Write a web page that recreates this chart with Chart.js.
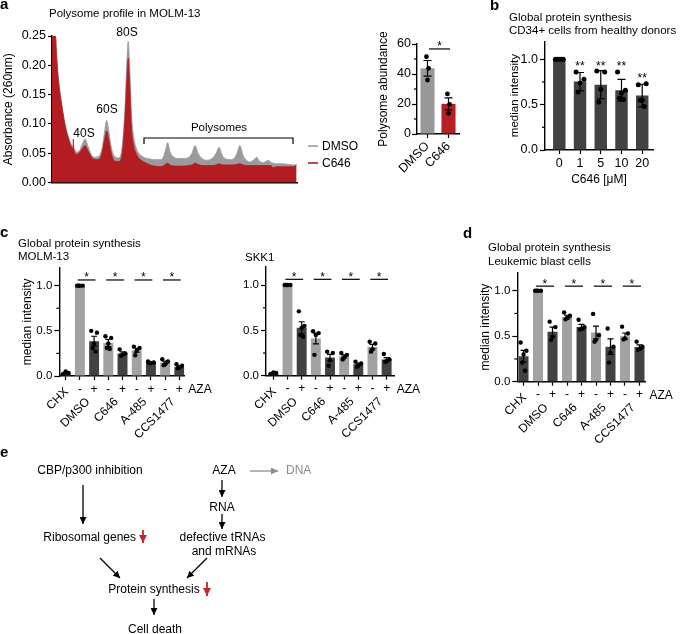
<!DOCTYPE html>
<html><head><meta charset="utf-8">
<script src="https://cdn.jsdelivr.net/npm/chart.js@4.4.1/dist/chart.umd.min.js"></script>
<style>
html,body{margin:0;padding:0;background:#fff;}
#root{position:relative;width:685px;height:634px;overflow:hidden;background:#fff;font-family:'Liberation Sans',Arial,Helvetica,sans-serif;color:#000;}
#root canvas{position:absolute;}
.t{position:absolute;white-space:nowrap;line-height:1;z-index:5;}
#ov{position:absolute;left:0;top:0;z-index:4;}
</style></head><body><div id="root"></div>
<script>
// ================= DATA =================
// Panel a: polysome profile (gradient position 0-100, absorbance 260nm)
const profileFraction = [0,1.4,1.9,2.6,4.0,5.3,6.7,8.0,8.6,8.7,8.9,10.1,11.4,12.4,13.5,14.7,15.9,17.1,18.8,20.4,21.4,22.3,23.3,24.3,25.7,27.3,28.6,29.8,30.6,31.1,31.7,32.4,33.2,34.3,35.2,36.7,38.0,40.0,42.0,44.1,45.3,46.3,47.2,48.2,49.8,51.4,53.5,55.5,57.1,58.4,59.6,61.2,63.3,65.3,66.9,68.2,69.4,71.0,72.7,74.3,75.5,76.7,78.0,79.6,80.8,82.4,83.6,84.5,86.1,87.3,88.3,89.4,90.2,91.7,93.9,96.3,98.4,99.8];
const profileDMSO = [.25,.25,.215,.178,.133,.100,.078,.064,.061,.060,.059,.052,.056,.066,.074,.062,.049,.043,.044,.058,.085,.106,.085,.058,.044,.042,.060,.130,.210,.241,.200,.120,.082,.060,.051,.045,.042,.040,.039,.039,.042,.055,.068,.052,.043,.041,.041,.042,.050,.063,.050,.041,.038,.041,.049,.060,.047,.040,.039,.041,.050,.063,.046,.037,.035,.039,.043,.037,.034,.036,.038,.034,.033,.032,.032,.031,.030,.030];
const profileC646 = [.25,.25,.213,.175,.131,.098,.075,.060,.058,.074,.056,.048,.052,.058,.063,.054,.045,.040,.039,.050,.072,.088,.070,.048,.036,.036,.048,.110,.180,.212,.170,.095,.066,.050,.043,.037,.034,.030,.028,.027,.028,.031,.033,.030,.028,.028,.028,.029,.030,.033,.031,.029,.029,.029,.030,.032,.030,.030,.030,.030,.031,.032,.030,.029,.029,.029,.029,.029,.029,.029,.029,.029,.025,.027,.027,.027,.027,.030];
const profileTicks = [0, 0.05, 0.10, 0.15, 0.20, 0.25];

// Panel a: polysome abundance
const polyLabels = ['DMSO', 'C646'];
const polyMeans = [43.8, 20.1];
const polySEM = [5.2, 4.0];
const polyPoints = [[51.5, 43.8, 36.0], [26.7, 19.8, 13.8]];
const polyTicks = [0, 20, 40, 60];

// Panel b: CD34+ cells, C646 dose
const cd34Labels = ['0', '1', '5', '10', '20'];
const cd34Means = [1.0, 0.755, 0.72, 0.66, 0.60];
const cd34SD = [0, 0.10, 0.155, 0.12, 0.125];
const cd34Points = [[1, 1, 1, 1, 1], [0.86, 0.78, 0.74, 0.64], [0.87, 0.86, 0.67, 0.53], [0.86, 0.66, 0.63, 0.57, 0.56], [0.72, 0.73, 0.55, 0.55, 0.48]];
const intensityTicks = [0, 0.5, 1.0];

// Panels c/d shared categories
const drugGroups = ['DMSO', 'C646', 'A-485', 'CCS1477'];
const azaLabels = ['', '-', '+', '-', '+', '-', '+', '-', '+'];

// Panel c: MOLM-13
const molmMeans = [0.03, 1.0, 0.385, 0.365, 0.25, 0.285, 0.15, 0.15, 0.10];
const molmSEM = [0.01, 0, 0.055, 0.04, 0.016, 0.022, 0.006, 0.015, 0.01];
const molmPoints = [[0.02, 0.035, 0.05], [1, 1, 1, 1], [0.50, 0.48, 0.36, 0.31, 0.27], [0.44, 0.42, 0.36, 0.31, 0.30], [0.295, 0.25, 0.235, 0.225], [0.325, 0.31, 0.28, 0.23], [0.16, 0.15, 0.145, 0.14], [0.185, 0.16, 0.13, 0.12], [0.13, 0.115, 0.095, 0.085]];

// Panel c: SKK1
const skkMeans = [0.03, 1.0, 0.53, 0.41, 0.20, 0.215, 0.125, 0.32, 0.18];
const skkSEM = [0.005, 0, 0.065, 0.06, 0.035, 0.015, 0.013, 0.025, 0.02];
const skkPoints = [[0.02, 0.03, 0.035], [1, 1, 1, 1], [0.71, 0.55, 0.53, 0.45, 0.43], [0.49, 0.47, 0.45, 0.23], [0.265, 0.25, 0.17, 0.11], [0.25, 0.23, 0.2, 0.18], [0.155, 0.135, 0.11, 0.10], [0.375, 0.355, 0.29, 0.265], [0.24, 0.18, 0.16, 0.155]];

// Panel d: leukemic blast cells
const blastMeans = [0.28, 1.0, 0.55, 0.71, 0.60, 0.54, 0.385, 0.50, 0.38];
const blastSEM = [0.065, 0, 0.05, 0.02, 0.03, 0.07, 0.085, 0.035, 0.025];
const blastPoints = [[0.43, 0.34, 0.30, 0.21, 0.12], [1, 1, 1, 1], [0.66, 0.60, 0.49, 0.46], [0.76, 0.725, 0.70, 0.685], [0.68, 0.60, 0.585, 0.575], [0.745, 0.51, 0.46, 0.44], [0.585, 0.385, 0.32, 0.21], [0.605, 0.53, 0.475, 0.465], [0.44, 0.385, 0.36, 0.35]];

// ================= STYLE =================
const FF = "'Liberation Sans', Arial, Helvetica, sans-serif";
const LIGHT = '#a2a2a4', DARK = '#424242', PGRAY = '#9b9b9d', PRED = '#b31d22';
const JIT = [-1, 1, 0, -0.5, 0.5];
const pairColors = [DARK, LIGHT, DARK, LIGHT, DARK, LIGHT, DARK, LIGHT, DARK];
Chart.defaults.font.family = FF;
Chart.defaults.color = '#000';

const root = document.getElementById('root');
const EXTRAS = {};

function mkCanvas(id, C) {
  const c = document.createElement('canvas');
  c.id = id; c.width = C.cw; c.height = C.ch;
  c.style.left = C.cl + 'px'; c.style.top = C.ct + 'px';
  c.style.width = C.cw + 'px'; c.style.height = C.ch + 'px';
  root.appendChild(c);
  return c;
}
function txt(s, x, cy, size, o) {
  o = o || {};
  const d = document.createElement('div');
  d.className = 't'; d.textContent = s;
  d.style.fontSize = size + 'px';
  d.style.top = (o.base !== undefined ? o.base - 0.8465 * size : cy - 0.5 * size) + 'px';
  d.style.left = x + 'px';
  if (o.center) d.style.transform = 'translateX(-50%)';
  if (o.bold) d.style.fontWeight = 'bold';
  if (o.color) d.style.color = o.color;
  root.appendChild(d);
}

const extras = {
  id: 'extras',
  afterDatasetDraw(chart, args) {
    if (args.index !== 0) return;
    const e = EXTRAS[chart.canvas.id];
    if (!e || !e.means) return;
    const ctx = chart.ctx, xs = chart.scales.x, ys = chart.scales.y;
    ctx.save();
    ctx.strokeStyle = '#000'; ctx.lineWidth = 1.2;
    e.means.forEach((m, i) => {
      const er = e.errs[i]; if (!er) return;
      const x = xs.getPixelForValue(i);
      const y1 = ys.getPixelForValue(m + er), y2 = ys.getPixelForValue(m - er);
      ctx.beginPath();
      ctx.moveTo(x, y1); ctx.lineTo(x, y2);
      ctx.moveTo(x - e.cap, y1); ctx.lineTo(x + e.cap, y1);
      ctx.moveTo(x - e.cap, y2); ctx.lineTo(x + e.cap, y2);
      ctx.stroke();
    });
    ctx.restore();
  },
  afterDraw(chart) {
    const e = EXTRAS[chart.canvas.id];
    if (!e) return;
    const ctx = chart.ctx, xs = chart.scales.x, ys = chart.scales.y, a = chart.chartArea;
    ctx.save();
    ctx.strokeStyle = '#000'; ctx.fillStyle = '#000'; ctx.lineWidth = 1.2;
    (e.minor || []).forEach(v => {
      const y = ys.getPixelForValue(v);
      ctx.beginPath(); ctx.moveTo(a.left - e.minorLen, y); ctx.lineTo(a.left, y); ctx.stroke();
    });
    (e.lines || []).forEach(l => {
      const y = ys.getPixelForValue(l.y);
      ctx.beginPath(); ctx.moveTo(xs.getPixelForValue(l.a), y); ctx.lineTo(xs.getPixelForValue(l.b), y); ctx.stroke();
    });
    ctx.font = (e.starSize || 12) + 'px ' + FF;
    ctx.textAlign = 'center'; ctx.textBaseline = 'alphabetic';
    (e.stars || []).forEach(s => {
      ctx.fillText(s.text, xs.getPixelForValue(s.x), ys.getPixelForValue(s.y) + 0.57 * (e.starSize || 12));
    });
    if (e.groups) {
      ctx.font = (e.groupSize || 12) + 'px ' + FF;
      ctx.textAlign = 'right'; ctx.textBaseline = 'middle';
      e.groups.forEach(g => {
        ctx.save();
        ctx.translate(xs.getPixelForValue(g.x) + 1, a.bottom + g.dy);
        ctx.rotate(-Math.PI / 4);
        ctx.fillText(g.text, 0, 0);
        ctx.restore();
      });
    }
    if (e.aza) {
      ctx.font = (e.groupSize || 12) + 'px ' + FF;
      ctx.textAlign = 'left'; ctx.textBaseline = 'middle';
      ctx.fillText(e.aza.text, xs.getPixelForValue(e.aza.at) + e.aza.dx, a.bottom + e.aza.dy);
    }
    ctx.restore();
  }
};

function yScale(o) {
  return {
    type: 'linear', min: 0, max: o.max,
    afterBuildTicks: s => { s.ticks = o.ticks.map(v => ({ value: v })); },
    afterFit: s => { s.width = o.yW; },
    grid: { display: true, drawOnChartArea: false, drawTicks: true, tickLength: o.tl || 5, tickColor: '#000', tickWidth: 1.2 },
    border: { display: true, color: '#000', width: 1.4 },
    ticks: { color: '#000', font: { size: o.fs, family: FF }, padding: o.pad === undefined ? 2 : o.pad, callback: v => o.fmt(v) },
    title: o.title ? { display: true, text: o.title, color: '#000', font: { size: o.tfs || 12, family: FF }, padding: 0 } : { display: false }
  };
}

function buildBar(id, A, C, d) {
  const cv = mkCanvas(id, C);
  const yW = A.l - C.cl, padT = A.t - C.ct, padR = C.cl + C.cw - A.r, xH = C.ct + C.ch - A.b;
  EXTRAS[id] = d.extras;
  const pts = [];
  d.points.forEach((arr, i) => arr.forEach((v, k) => pts.push({ x: i + JIT[k % JIT.length] * d.jit, y: v })));
  return new Chart(cv, {
    type: 'bar',
    data: {
      datasets: [
        { type: 'bar', data: d.means.map((m, i) => ({ x: i, y: m })), backgroundColor: d.colors, borderWidth: 0, barPercentage: d.barPct, categoryPercentage: 1, order: 2 },
        { type: 'scatter', data: pts, pointRadius: d.dotR, pointBackgroundColor: '#000', pointBorderWidth: 0, backgroundColor: '#000', order: 0 }
      ]
    },
    options: {
      responsive: false, animation: false, devicePixelRatio: 1, events: [],
      layout: { padding: { left: 0, top: padT, right: padR, bottom: 0 } },
      plugins: { legend: { display: false }, tooltip: { enabled: false } },
      scales: {
        x: {
          type: 'linear', min: d.xMin, max: d.xMax, offset: false,
          afterBuildTicks: s => { s.ticks = d.labels.map((_, i) => ({ value: i })); },
          afterFit: s => { s.height = xH; },
          ticks: { autoSkip: false, callback: (v, i) => d.labels[i], maxRotation: d.rot || 0, minRotation: d.rot || 0, font: { size: d.xfs, family: FF }, color: '#000', padding: d.xpad || 2 },
          grid: { display: true, drawOnChartArea: false, drawTicks: true, tickLength: 4, tickColor: '#000', tickWidth: 1.2, offset: false },
          border: { display: true, color: '#000', width: 1.4 },
          title: d.xTitle ? { display: true, text: d.xTitle, color: '#000', font: { size: d.xtfs || 12, family: FF }, padding: { top: 0, bottom: d.xtpb || 0 } } : { display: false }
        },
        y: yScale(Object.assign({ yW: yW }, d.y))
      }
    },
    plugins: [extras]
  });
}

// ================= PANEL a: profile =================
(function () {
  const A = { l: 52, t: 36, r: 297, b: 188 }, C = { cl: 1, ct: 24, cw: 302, ch: 168 };
  const cv = mkCanvas('cProf', C);
  const yW = A.l - C.cl, padT = A.t - C.ct, padR = C.cl + C.cw - A.r, xH = C.ct + C.ch - A.b;
  new Chart(cv, {
    type: 'line',
    data: {
      datasets: [
        { label: 'C646', data: profileFraction.map((x, i) => ({ x: x, y: profileC646[i] })), borderColor: PRED, backgroundColor: PRED, fill: 'origin', pointRadius: 0, borderWidth: 0.8, cubicInterpolationMode: 'monotone', order: 0 },
        { label: 'DMSO', data: profileFraction.map((x, i) => ({ x: x, y: profileDMSO[i] })), borderColor: PGRAY, backgroundColor: PGRAY, fill: 'origin', pointRadius: 0, borderWidth: 0.8, cubicInterpolationMode: 'monotone', order: 1 }
      ]
    },
    options: {
      responsive: false, animation: false, devicePixelRatio: 1, events: [],
      layout: { padding: { left: 0, top: padT, right: padR, bottom: 0 } },
      plugins: { legend: { display: false }, tooltip: { enabled: false } },
      scales: {
        x: { type: 'linear', min: 0, max: 100, ticks: { display: false }, grid: { display: false }, border: { display: true, color: '#000', width: 1.5 }, afterFit: s => { s.height = xH; } },
        y: yScale({ yW: yW, max: 0.25, ticks: profileTicks, fs: 12.5, tl: 4, fmt: v => v.toFixed(2), title: 'Absorbance (260nm)', tfs: 12 })
      }
    }
  });
})();

// ================= PANEL a: polysome abundance =================
buildBar('cPoly', { l: 417, t: 44, r: 459, b: 134 }, { cl: 376, ct: 32, cw: 95, ch: 160 }, {
  labels: polyLabels, means: polyMeans, points: polyPoints, colors: ['#98989a', '#b51f25'],
  xMin: -0.5, xMax: 1.5, barPct: 0.67, dotR: 2.4, jit: 0.05, rot: 45, xfs: 12.5, xpad: 1,
  y: { max: 60, ticks: polyTicks, fs: 12.5, tl: 5, pad: 1, fmt: v => String(v), title: 'Polysome abundance', tfs: 12 },
  extras: { means: polyMeans, errs: polySEM, cap: 4, minor: [10, 30, 50], minorLen: 3,
    lines: [{ a: 0.07, b: 1.07, y: 56.7 }], stars: [{ x: 0.57, y: 60.7, text: '*' }], starSize: 12 }
});

// ================= PANEL b =================
buildBar('cB', { l: 545, t: 41.2, r: 653, b: 150 }, { cl: 508, ct: 30, cw: 177, ch: 160 }, {
  labels: cd34Labels, means: cd34Means, points: cd34Points, colors: DARK,
  xMin: -0.69, xMax: 4.52, barPct: 0.6, dotR: 2.5, jit: 0.19, xfs: 12.5, xpad: 2,
  xTitle: 'C646 [μM]', xtfs: 12, xtpb: 3,
  y: { max: 1.2, ticks: intensityTicks, fs: 12.5, tl: 5, pad: 2, fmt: v => v.toFixed(1), title: 'median intensity', tfs: 11.5 },
  extras: { means: cd34Means, errs: cd34SD, cap: 4, minor: [0.25, 0.75], minorLen: 3, starSize: 12,
    stars: [{ x: 1, y: 0.963, text: '**' }, { x: 2, y: 0.963, text: '**' }, { x: 3, y: 0.963, text: '**' }, { x: 4, y: 0.827, text: '**' }] }
});

// ================= PANELS c / d =================
function pairSig(yLine, yStar) {
  const lines = [], stars = [];
  for (let i = 1; i < 9; i += 2) {
    lines.push({ a: i - 0.15, b: i + 1.1, y: yLine });
    stars.push({ x: i + 0.47, y: yStar, text: '*' });
  }
  return { lines, stars };
}
function groupLabels() {
  const g = [{ text: 'CHX', x: 0, dy: 14 }];
  drugGroups.forEach((t, k) => g.push({ text: t, x: 1.5 + 2 * k, dy: 24 }));
  return g;
}
function cdConfig(means, errs, points, xMin, xMax, barPct, title, sig, azaDx, azaDy) {
  return {
    labels: azaLabels, means: means, points: points, colors: pairColors,
    xMin: xMin, xMax: xMax, barPct: barPct, dotR: 2.2, jit: 0.2, xfs: 12, xpad: 2,
    y: { max: 1.2, ticks: intensityTicks, fs: 11.5, tl: 5, pad: 2, fmt: v => v.toFixed(1), title: title, tfs: 12 },
    extras: { means: means, errs: errs, cap: 3, minor: [0.25, 0.75], minorLen: 3, starSize: 12,
      lines: sig.lines, stars: sig.stars, groups: groupLabels(), groupSize: 12,
      aza: { text: 'AZA', at: 8, dx: azaDx, dy: azaDy } }
  };
}
buildBar('cC1', { l: 59.3, t: 267.6, r: 184.3, b: 376 }, { cl: 20, ct: 255, cw: 205, ch: 195 },
  cdConfig(molmMeans, molmSEM, molmPoints, -0.45, 8.35, 0.7, 'median intensity', pairSig(1.063, 1.13), 9, 14));
buildBar('cC2', { l: 266, t: 266.9, r: 394, b: 375.7 }, { cl: 232, ct: 255, cw: 195, ch: 195 },
  cdConfig(skkMeans, skkSEM, skkPoints, -0.52, 8.52, 0.7, null, pairSig(1.063, 1.12), 10, 14));
buildBar('cD', { l: 517.3, t: 272.5, r: 645, b: 381.7 }, { cl: 478, ct: 260, cw: 207, ch: 190 },
  cdConfig(blastMeans, blastSEM, blastPoints, -0.43, 8.38, 0.69, 'median intensity', pairSig(1.05, 1.11), 10, 14));

// ================= TEXT =================
txt('a', 0, 0, 15, { bold: true, base: 9 });
txt('b', 490, 0, 15, { bold: true, base: 10 });
txt('c', 0, 0, 15, { bold: true, base: 237 });
txt('d', 463, 0, 15, { bold: true, base: 237.5 });
txt('e', 0, 0, 15, { bold: true, base: 457 });

txt('Polysome profile in MOLM-13', 49, 14, 11.5);
txt('40S', 84, 133, 12, { center: true });
txt('60S', 107, 109, 12, { center: true });
txt('80S', 127, 32, 12, { center: true });
txt('Polysomes', 219, 128, 11.5, { center: true });
txt('DMSO', 322, 146, 12);
txt('C646', 322, 163, 12);

txt('Global protein synthesis', 509, 18, 11.5);
txt('CD34+ cells from healthy donors', 509, 31, 11.5);

txt('Global protein synthesis', 18, 244, 11.5);
txt('MOLM-13', 18, 257, 11.5);
txt('SKK1', 245, 258, 11.5);
txt('Global protein synthesis', 488, 248, 11.5);
txt('Leukemic blast cells', 488, 262, 11.5);

txt('CBP/p300 inhibition', 90, 470, 12, { center: true });
txt('AZA', 224, 470, 12, { center: true });
txt('DNA', 286, 470, 12, { color: '#8c8c8c' });
txt('Ribosomal genes', 43.3, 537, 12);
txt('RNA', 222, 507, 12, { center: true });
txt('defective tRNAs', 222.5, 537, 12, { center: true });
txt('and mRNAs', 224, 551, 12, { center: true });
txt('Protein synthesis', 108.3, 589, 12);
txt('Cell death', 155, 629, 12, { center: true });

// ================= OVERLAY (bracket, legend keys, scheme arrows) =================
const NS = 'http://www.w3.org/2000/svg';
const svg = document.createElementNS(NS, 'svg');
svg.setAttribute('id', 'ov'); svg.setAttribute('width', 685); svg.setAttribute('height', 634);
svg.innerHTML =
  '<defs>' +
  '<marker id="hb" viewBox="0 0 10 10" refX="10" refY="5" markerWidth="7" markerHeight="7" markerUnits="userSpaceOnUse" orient="auto"><path d="M0,0 L10,5 L0,10 z" fill="#000"/></marker>' +
  '<marker id="hg" viewBox="0 0 10 10" refX="10" refY="5" markerWidth="7" markerHeight="7" markerUnits="userSpaceOnUse" orient="auto"><path d="M0,0 L10,5 L0,10 z" fill="#8c8c8c"/></marker>' +
  '<marker id="hr" viewBox="0 0 10 10" refX="10" refY="5" markerWidth="8" markerHeight="8" markerUnits="userSpaceOnUse" orient="auto"><path d="M0,0 L10,5 L0,10 z" fill="#c1272d"/></marker>' +
  '</defs>' +
  '<path d="M144,144 L144,138 L293,138 L293,144" fill="none" stroke="#000" stroke-width="1.2"/>' +
  '<line x1="308" y1="146" x2="318" y2="146" stroke="' + PGRAY + '" stroke-width="1.6"/>' +
  '<line x1="308" y1="163" x2="318" y2="163" stroke="' + PRED + '" stroke-width="1.6"/>' +
  '<line x1="250" y1="471" x2="278" y2="471" stroke="#8c8c8c" stroke-width="1.3" marker-end="url(#hg)"/>' +
  '<line x1="83" y1="485" x2="83" y2="524" stroke="#000" stroke-width="1.3" marker-end="url(#hb)"/>' +
  '<line x1="222" y1="480" x2="222" y2="497" stroke="#000" stroke-width="1.3" marker-end="url(#hb)"/>' +
  '<line x1="222" y1="514" x2="222" y2="529" stroke="#000" stroke-width="1.3" marker-end="url(#hb)"/>' +
  '<line x1="100" y1="558" x2="120" y2="578" stroke="#000" stroke-width="1.3" marker-end="url(#hb)"/>' +
  '<line x1="207" y1="558" x2="187" y2="578" stroke="#000" stroke-width="1.3" marker-end="url(#hb)"/>' +
  '<line x1="154" y1="599" x2="154" y2="615" stroke="#000" stroke-width="1.3" marker-end="url(#hb)"/>' +
  '<line x1="143" y1="530" x2="143" y2="543" stroke="#c1272d" stroke-width="1.8" marker-end="url(#hr)"/>' +
  '<line x1="207" y1="582" x2="207" y2="596" stroke="#c1272d" stroke-width="1.8" marker-end="url(#hr)"/>';
root.appendChild(svg);
</script>
</body></html>
